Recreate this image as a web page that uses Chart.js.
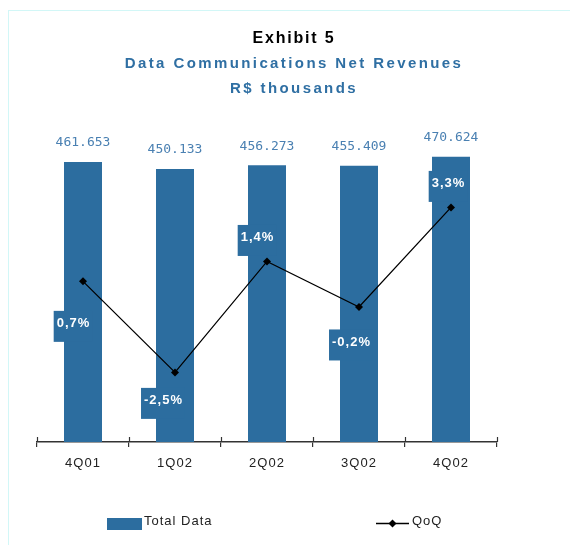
<!DOCTYPE html>
<html>
<head>
<meta charset="utf-8">
<script src="https://cdn.jsdelivr.net/npm/chart.js@4.4.1/dist/chart.umd.min.js"></script>
<style>
    html, body { margin: 0; padding: 0; background: #fff; }
    #wrap { position: relative; width: 570px; height: 545px; overflow: hidden; }
    #frame { position: absolute; left: 8px; top: 10px; right: -2px; bottom: -2px; border-left: 1px solid #d2f7f7; border-top: 1px solid #d2f7f7; }
    canvas { position: absolute; left: 0; top: 0; }
</style>
</head>
<body>
<div id="wrap">
    <div id="frame"></div>
    <canvas id="exhibitChart" width="570" height="545"></canvas>
</div>
<script>
// Chart data
const quarters = ['4Q01', '1Q02', '2Q02', '3Q02', '4Q02'];
const totalData = [461653, 450133, 456273, 455409, 470624]; // R$ thousands
const qoqGrowth = [0.7, -2.5, 1.4, -0.2, 3.3]; // % vs previous quarter
const titleLines = ['Exhibit 5', 'Data Communications Net Revenues', 'R$ thousands'];

const BAR_COLOR = '#2c6d9f';
const TITLE_BLUE = '#2f6fa3';
const VALUE_BLUE = '#4a80b2';
const FONT = '"Liberation Sans", Arial, sans-serif';

// 461653 -> "461.653"
function formatThousands(value) {
    return String(value).replace(/\B(?=(\d{3})+(?!\d))/g, '.');
}

// 0.7 -> "0,7%"
function formatPercent(value) {
    return value.toFixed(1).replace('.', ',') + '%';
}

// Extra drawing: titles, value labels, QoQ boxes, axis ticks and legend
const exhibitDecor = {
    id: 'exhibitDecor',
    beforeDraw(chart) {
        chart.ctx.letterSpacing = '1px';
    },
    afterDatasetsDraw(chart, args, opts) {
        const ctx = chart.ctx;
        const xScale = chart.scales.x;

        ctx.save();

        // tick marks crossing the axis (upper half)
        ctx.strokeStyle = '#333';
        ctx.lineWidth = 1.2;
        const n = quarters.length;
        for (let i = 0; i <= n; i++) {
            const x = Math.round(xScale.left + i * xScale.width / n) + 0.5;
            ctx.beginPath();
            ctx.moveTo(x, xScale.top - 5);
            ctx.lineTo(x, xScale.top);
            ctx.stroke();
        }

        // values above the bars
        ctx.letterSpacing = '0px';
        ctx.font = '13px "DejaVu Sans Mono", monospace';
        ctx.fillStyle = VALUE_BLUE;
        ctx.textAlign = 'center';
        ctx.textBaseline = 'middle';
        chart.getDatasetMeta(0).data.forEach((bar, i) => {
            ctx.fillText(formatThousands(totalData[i]), bar.x, bar.y - 19);
        });

        // QoQ labels in boxes
        ctx.letterSpacing = '1px';
        ctx.font = 'bold 13px ' + FONT;
        chart.getDatasetMeta(1).data.forEach((pt, i) => {
            const text = formatPercent(qoqGrowth[i]);
            const [dx, dy] = opts.shift[i];
            const cx = pt.x + dx;
            const cy = pt.y + dy;
            const w = ctx.measureText(text).width + 5;
            ctx.fillStyle = BAR_COLOR;
            ctx.fillRect(cx - w / 2, cy - 12.5, w, 31);
            ctx.fillStyle = '#fff';
            ctx.fillText(text, cx + 0.5, cy);
        });

        ctx.restore();
    },
    afterDraw(chart) {
        const ctx = chart.ctx;
        ctx.save();
        ctx.textAlign = 'center';
        ctx.textBaseline = 'alphabetic';

        // titles
        ctx.letterSpacing = '1.8px';
        ctx.font = 'bold 16px ' + FONT;
        ctx.fillStyle = '#000';
        ctx.fillText(titleLines[0], 294, 43);

        ctx.letterSpacing = '2.4px';
        ctx.font = 'bold 15px ' + FONT;
        ctx.fillStyle = TITLE_BLUE;
        ctx.fillText(titleLines[1], 294, 68);
        ctx.fillText(titleLines[2], 294, 93);

        // legend
        const sets = chart.data.datasets;
        ctx.letterSpacing = '1px';
        ctx.font = '13px ' + FONT;
        ctx.textAlign = 'left';

        ctx.fillStyle = BAR_COLOR;
        ctx.fillRect(107, 518, 35, 12);
        ctx.fillStyle = '#222';
        ctx.fillText(sets[0].label, 144, 525);

        ctx.strokeStyle = '#000';
        ctx.lineWidth = 1.3;
        ctx.beginPath();
        ctx.moveTo(376, 523.5);
        ctx.lineTo(409, 523.5);
        ctx.stroke();
        ctx.fillStyle = '#000';
        ctx.beginPath();
        ctx.moveTo(392.5, 519.5);
        ctx.lineTo(396.5, 523.5);
        ctx.lineTo(392.5, 527.5);
        ctx.lineTo(388.5, 523.5);
        ctx.closePath();
        ctx.fill();
        ctx.fillStyle = '#222';
        ctx.fillText(sets[1].label, 412, 525);

        ctx.restore();
        ctx.letterSpacing = '0px';
    }
};

const ctx = document.getElementById('exhibitChart').getContext('2d');
const exhibitChart = new Chart(ctx, {
    type: 'bar',
    data: {
        labels: quarters,
        datasets: [
            {
                label: 'Total Data',
                data: totalData,
                yAxisID: 'y',
                backgroundColor: BAR_COLOR,
                barPercentage: 38 / 92,
                categoryPercentage: 1,
                order: 2
            },
            {
                type: 'line',
                label: 'QoQ',
                data: qoqGrowth,
                yAxisID: 'y1',
                borderColor: '#000',
                borderWidth: 1.3,
                backgroundColor: '#000',
                pointStyle: 'rectRot',
                pointRadius: 4,
                pointBackgroundColor: '#000',
                pointBorderWidth: 0,
                order: 1
            }
        ]
    },
    options: {
        responsive: false,
        animation: false,
        layout: {
            padding: { top: 126.7, left: 37, right: 73, bottom: 64.4 }
        },
        plugins: {
            legend: { display: false },
            title: { display: false },
            tooltip: { enabled: false },
            exhibitDecor: {
                shift: [[-10, 42], [-12, 28], [-10, -24], [-8, 35], [-3, -24]]
            }
        },
        scales: {
            x: {
                grid: {
                    display: true,
                    drawOnChartArea: false,
                    drawTicks: true,
                    tickLength: 5,
                    color: '#333',
                    lineWidth: 1.2
                },
                border: { display: true, color: '#333', width: 1.5 },
                ticks: {
                    padding: 9,
                    color: '#222',
                    font: { family: FONT, size: 13 }
                }
            },
            y: {
                display: false,
                min: 0,
                max: 520000
            },
            y1: {
                display: false,
                position: 'right',
                min: -4.947,
                max: 6.137
            }
        }
    },
    plugins: [exhibitDecor]
});
</script>
</body>
</html>
